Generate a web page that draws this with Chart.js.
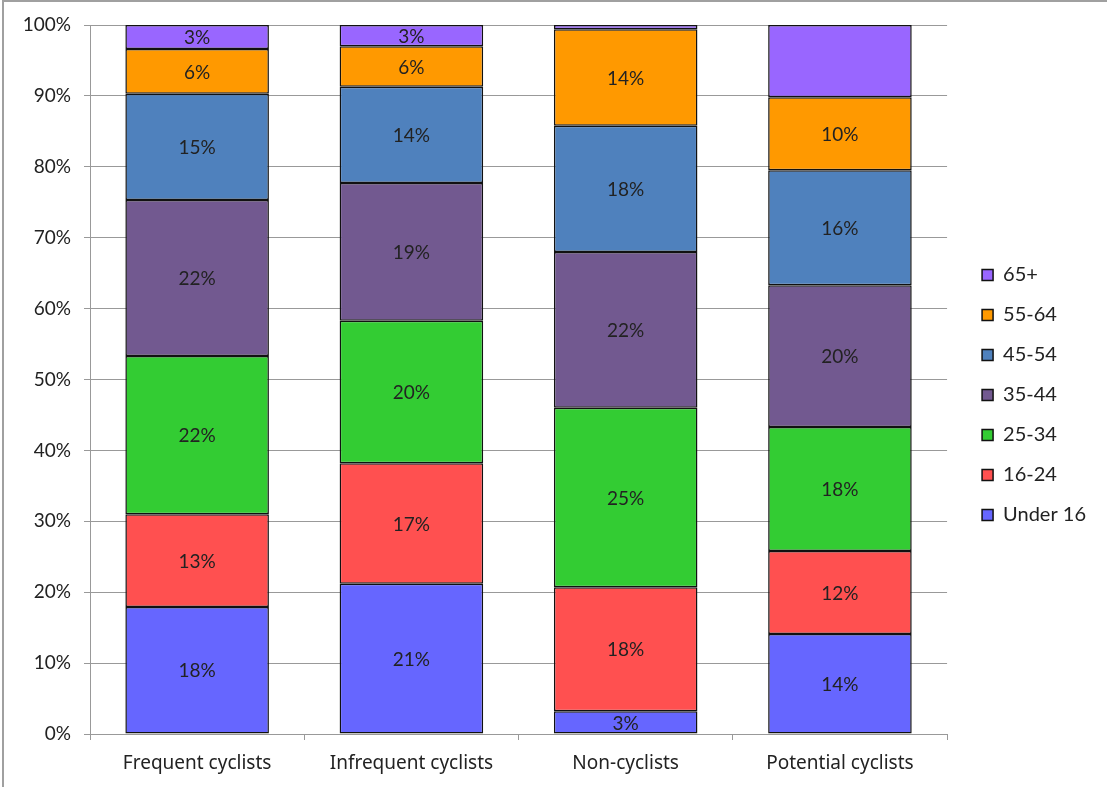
<!DOCTYPE html>
<html>
<head>
<meta charset="utf-8">
<script src="https://cdn.jsdelivr.net/npm/chart.js@4/dist/chart.umd.min.js"></script>
<style>
  html, body { margin: 0; padding: 0; background: #fff; }
  #wrap { position: relative; width: 1107px; height: 787px; }
  #frame { position: absolute; left: 2px; top: 0; width: 1110px; height: 790px; border: 2px solid #a0a0a0; box-sizing: border-box; pointer-events: none; }
</style>
</head>
<body>
<div id="wrap">
  <canvas id="chart" width="1107" height="787"></canvas>
  <div id="frame"></div>
</div>
<script>
const groups = ['Frequent cyclists', 'Infrequent cyclists', 'Non-cyclists', 'Potential cyclists'];
const ageBands = ['Under 16', '16-24', '25-34', '35-44', '45-54', '55-64', '65+'];
const under16 = [17.9, 21.2, 3.2, 14.1];
const age16to24 = [13.1, 17.0, 17.5, 11.7];
const age25to34 = [22.3, 20.1, 25.3, 17.5];
const age35to44 = [22.0, 19.4, 22.0, 20.0];
const age45to54 = [15.0, 13.6, 17.8, 16.2];
const age55to64 = [6.3, 5.7, 13.6, 10.3];
const age65plus = [3.4, 3.0, 0.6, 10.2];
const yTicks = [0, 10, 20, 30, 40, 50, 60, 70, 80, 90, 100];
// segments whose value label is not shown: [series index, group index]
const hiddenLabels = [[6, 2], [6, 3]];

const series = [under16, age16to24, age25to34, age35to44, age45to54, age55to64, age65plus];
const colors = ['#6666FF', '#FF5050', '#33CC33', '#725990', '#4F81BD', '#FF9900', '#9966FF'];

const mainFont = "Lato, 'Open Sans', sans-serif";
Chart.defaults.font.family = mainFont;
Chart.defaults.color = '#222';

// value labels in the middle of each segment
const segLabels = {
  id: 'segLabels',
  afterDatasetsDraw(chart) {
    const ctx = chart.ctx;
    ctx.save();
    ctx.font = '19px ' + mainFont;
    ctx.fillStyle = '#222';
    ctx.textAlign = 'center';
    ctx.textBaseline = 'middle';
    chart.data.datasets.forEach((ds, si) => {
      const meta = chart.getDatasetMeta(si);
      meta.data.forEach((bar, gi) => {
        if (hiddenLabels.some(h => h[0] === si && h[1] === gi)) return;
        const y = (bar.y + bar.base) / 2 + 1;
        ctx.fillText(Math.round(ds.data[gi]) + '%', bar.x, y);
      });
    });
    ctx.restore();
  }
};

// nudge the legend block up a little, like the original
const legendShift = {
  id: 'legendShift',
  afterLayout(chart) {
    if (!chart.legend) return;
    chart.legend.top -= 11;
    chart.legend.bottom -= 11;
  }
};

new Chart(document.getElementById('chart').getContext('2d'), {
  type: 'bar',
  data: {
    labels: groups,
    datasets: series.map((vals, i) => ({
      label: ageBands[i],
      data: vals,
      backgroundColor: colors[i],
      borderColor: '#111',
      borderWidth: 1.5,
      borderSkipped: false,
      barPercentage: 0.67,
      categoryPercentage: 1
    }))
  },
  options: {
    responsive: false,
    animation: false,
    layout: { padding: { left: 10, top: 25, right: 11, bottom: 0 } },
    plugins: {
      legend: {
        position: 'right',
        reverse: true,
        labels: {
          boxWidth: 11, boxHeight: 11, padding: 20,
          font: { size: 20 }, color: '#222'
        }
      },
      tooltip: { enabled: false }
    },
    scales: {
      x: {
        stacked: true,
        afterFit: s => { s.height = 53; },
        grid: { offset: true, drawOnChartArea: false, color: '#999', tickLength: 6 },
        border: { color: '#999' },
        ticks: { font: { size: 19, family: "'Noto Sans', sans-serif" }, color: '#222', padding: 12 }
      },
      y: {
        stacked: true,
        min: 0, max: 100,
        afterBuildTicks: s => { s.ticks = yTicks.map(v => ({ value: v })); },
        afterFit: s => { s.width = 80; },
        grid: { color: '#999', tickLength: 6 },
        border: { color: '#999' },
        ticks: { callback: v => v + '%', font: { size: 19 }, color: '#222', padding: 13 }
      },
      gap: {
        position: 'right',
        afterFit: s => { s.width = 15; },
        grid: { display: false },
        border: { display: false },
        ticks: { display: false }
      }
    }
  },
  plugins: [segLabels, legendShift]
});
</script>
</body>
</html>
